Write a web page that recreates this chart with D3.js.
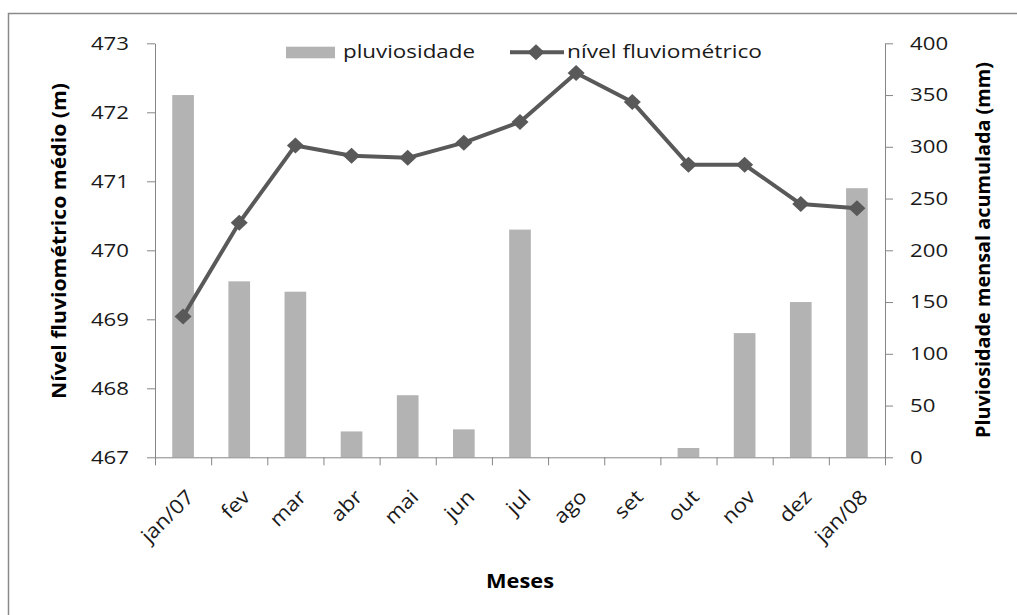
<!DOCTYPE html>
<html>
<head>
<meta charset="utf-8">
<script src="https://cdn.jsdelivr.net/npm/d3@7"></script>
<style>
  html, body { margin: 0; padding: 0; background: #fff; }
  svg { display: block; }
  text { font-family: "Open Sans", "Noto Sans", sans-serif; }
</style>
</head>
<body>
<svg id="chart" width="1017" height="615"></svg>
<script>
// Monthly data, Jan 2007 – Jan 2008
const months = ["jan/07", "fev", "mar", "abr", "mai", "jun", "jul", "ago", "set", "out", "nov", "dez", "jan/08"];
const rainfall = [350, 170, 160, 25, 60, 27, 220, 0, 0, 9, 120, 150, 260];          // mm
const riverLevel = [469.04, 470.40, 471.52, 471.37, 471.34, 471.56, 471.86, 472.57, 472.15, 471.24, 471.24, 470.67, 470.61]; // m
const levelTicks = [467, 468, 469, 470, 471, 472, 473];
const rainTicks = [0, 50, 100, 150, 200, 250, 300, 350, 400];

const svg = d3.select("#chart");
const W = 1017, H = 615;
const plot = { left: 155, right: 885, top: 43.3, bottom: 457.3 };
const axisColor = "#868686";
const barColor = "#b3b3b3";
const lineColor = "#595959";
const textColor = "#1a1a1a";

// widen text horizontally by factor k
function stretch(sel, k) {
  sel.each(function () {
    const L = this.getComputedTextLength();
    this.setAttribute("textLength", L * k);
    this.setAttribute("lengthAdjust", "spacingAndGlyphs");
  });
}

// outer frame
svg.append("rect")
  .attr("x", 8.5).attr("y", 13.5)
  .attr("width", W + 20).attr("height", H + 20)
  .attr("fill", "#fff").attr("stroke", "#8a8a8a").attr("stroke-width", 1.5);

// scales
const x = d3.scaleBand().domain(months)
  .range([plot.left, plot.right]).paddingInner(0.614).paddingOuter(0.307);
const xEdges = d3.scaleLinear().domain([0, months.length]).range([plot.left, plot.right]);
const yLevel = d3.scaleLinear().domain([467, 473]).range([plot.bottom, plot.top]);
const yRain = d3.scaleLinear().domain([0, 400]).range([plot.bottom, plot.top]);
const cx = m => x(m) + x.bandwidth() / 2;

// rainfall bars
svg.append("g").selectAll("rect").data(months).join("rect")
  .attr("x", m => x(m))
  .attr("y", (m, i) => yRain(rainfall[i]))
  .attr("width", x.bandwidth())
  .attr("height", (m, i) => yRain(0) - yRain(rainfall[i]))
  .attr("fill", barColor);

// axes
function styleAxis(g, size) {
  g.selectAll(".domain").attr("stroke", axisColor).attr("stroke-width", 1);
  g.selectAll(".tick line").attr("stroke", axisColor).attr("stroke-width", 1);
  g.selectAll(".tick text").attr("fill", textColor)
    .style("font-size", (size || 18.5) + "px").style("font-family", "'Open Sans', sans-serif");
}

const gLeft = svg.append("g").attr("transform", `translate(${plot.left},0)`)
  .call(d3.axisLeft(yLevel).tickValues(levelTicks).tickSize(8).tickSizeOuter(0).tickPadding(18).tickFormat(d3.format("d")))
  .call(styleAxis);
stretch(gLeft.selectAll(".tick text"), 1.2);

const gRight = svg.append("g").attr("transform", `translate(${plot.right},0)`)
  .call(d3.axisRight(yRain).tickValues(rainTicks).tickSize(8).tickSizeOuter(0).tickPadding(17).tickFormat(d3.format("d")))
  .call(styleAxis);
stretch(gRight.selectAll(".tick text"), 1.2);

// x axis: ticks on category boundaries
svg.append("g").attr("transform", `translate(0,${plot.bottom})`)
  .call(d3.axisBottom(xEdges).tickValues(d3.range(months.length + 1)).tickSize(8).tickSizeOuter(0).tickFormat(""))
  .call(styleAxis);

// x labels at category centres, rotated
const gX = svg.append("g").attr("transform", `translate(0,${plot.bottom})`)
  .call(d3.axisBottom(x).tickSize(0))
  .call(g => g.select(".domain").remove())
  .call(g => styleAxis(g, 20));
gX.selectAll(".tick text")
  .attr("x", 0).attr("y", 0).attr("dy", "0.35em")
  .attr("text-anchor", "end")
  .attr("transform", "translate(7,36) rotate(-45)");
stretch(gX.selectAll(".tick text"), 1.1);

// river level line
const line = d3.line().x((d, i) => cx(months[i])).y(d => yLevel(d));
svg.append("path").datum(riverLevel)
  .attr("d", line)
  .attr("fill", "none").attr("stroke", lineColor)
  .attr("stroke-width", 4).attr("stroke-linejoin", "round");

// diamond markers
const diamond = (px, py, rx, ry) => `M${px},${py - ry}L${px + rx},${py}L${px},${py + ry}L${px - rx},${py}Z`;
svg.append("g").selectAll("path").data(riverLevel).join("path")
  .attr("d", (d, i) => diamond(cx(months[i]), yLevel(d), 8.5, 8))
  .attr("fill", lineColor);

// legend
const lg = svg.append("g");
lg.append("rect").attr("x", 286).attr("y", 46.7).attr("width", 49).attr("height", 11.6).attr("fill", barColor);
lg.append("text").attr("x", 343).attr("y", 58).attr("fill", textColor)
  .style("font-size", "18.5px").text("pluviosidade")
  .attr("textLength", 132).attr("lengthAdjust", "spacingAndGlyphs");
lg.append("line").attr("x1", 510).attr("x2", 564).attr("y1", 52.3).attr("y2", 52.3)
  .attr("stroke", lineColor).attr("stroke-width", 4);
lg.append("path").attr("d", diamond(536, 52.3, 8.5, 8)).attr("fill", lineColor);
lg.append("text").attr("x", 567).attr("y", 58).attr("fill", textColor)
  .style("font-size", "18.5px").text("nível fluviométrico")
  .attr("textLength", 195).attr("lengthAdjust", "spacingAndGlyphs");

// axis titles
svg.append("text")
  .attr("transform", "translate(59,241) rotate(-90)")
  .attr("text-anchor", "middle").attr("dominant-baseline", "central")
  .attr("fill", "#000").style("font-size", "19px").style("font-weight", "bold")
  .attr("textLength", 316).attr("lengthAdjust", "spacingAndGlyphs")
  .text("Nível fluviométrico médio (m)");

svg.append("text")
  .attr("transform", "translate(983,250) rotate(-90)")
  .attr("text-anchor", "middle").attr("dominant-baseline", "central")
  .attr("fill", "#000").style("font-size", "19px").style("font-weight", "bold")
  .attr("textLength", 376).attr("lengthAdjust", "spacingAndGlyphs")
  .text("Pluviosidade mensal acumulada (mm)");

svg.append("text")
  .attr("x", (plot.left + plot.right) / 2).attr("y", 588)
  .attr("text-anchor", "middle")
  .attr("fill", "#000").style("font-size", "19px").style("font-weight", "bold")
  .attr("textLength", 68).attr("lengthAdjust", "spacingAndGlyphs")
  .text("Meses");
</script>
</body>
</html>
